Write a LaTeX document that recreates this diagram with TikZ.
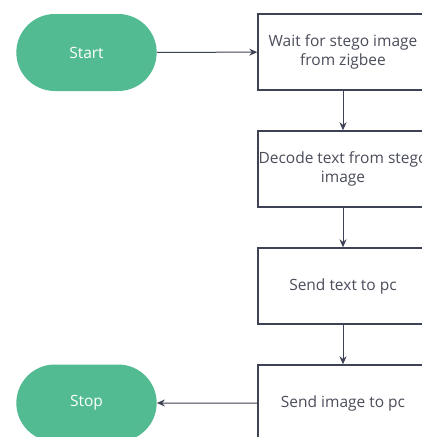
\documentclass[tikz,border=0pt]{standalone}
\usepackage{fontspec}
\setmainfont{Open Sans}
\usetikzlibrary{arrows.meta,positioning,shapes.misc}
\definecolor{termgreen}{HTML}{52BB92}
\definecolor{linegray}{HTML}{3E4255}
\definecolor{textgray}{HTML}{4B4D5A}

\begin{document}
\begin{tikzpicture}[x=1pt, y=-1pt, >={Stealth[length=8pt, width=7pt]},
  terminal/.style={rounded rectangle, fill=termgreen, draw=none,
    minimum width=147pt, minimum height=77pt, text=white, font=\fontsize{15.5}{19}\selectfont},
  stepbox/.style={rectangle, draw=linegray, line width=1.4pt, fill=white,
    inner xsep=0pt, minimum width=170pt, minimum height=76pt, text=textgray, align=center,
    font=\fontsize{15.5}{19}\selectfont},
  flow/.style={->, draw=linegray, line width=1pt}]
  % page frame (boxes run off the right edge)
  \useasboundingbox (0,0) rectangle (422,437);
  \clip (0,0) rectangle (422,437);
  \fill[white] (0,0) rectangle (422,437);

  % --- Terminals ---
  \node[terminal] (start) at (86.5,52.5) {Start};
  \node[terminal] (stop)  at (86.5,403)  {Stop};

  % --- Process boxes ---
  \node[stepbox] (wait)   at (343,52)  {Wait for stego image\\from zigbee};
  \node[stepbox] (decode) at (343,169) {Decode text from stego\\image};
  \node[stepbox] (sendtx) at (343,286) {Send text to pc};
  \node[stepbox] (sendim) at (343,403) {Send image to pc};

  % --- Connectors ---
  \draw[flow] (start) -- (wait);
  \draw[flow] (wait) -- (decode);
  \draw[flow] (decode) -- (sendtx);
  \draw[flow] (sendtx) -- (sendim);
  \draw[flow] (sendim) -- (stop);
\end{tikzpicture}
\end{document}
